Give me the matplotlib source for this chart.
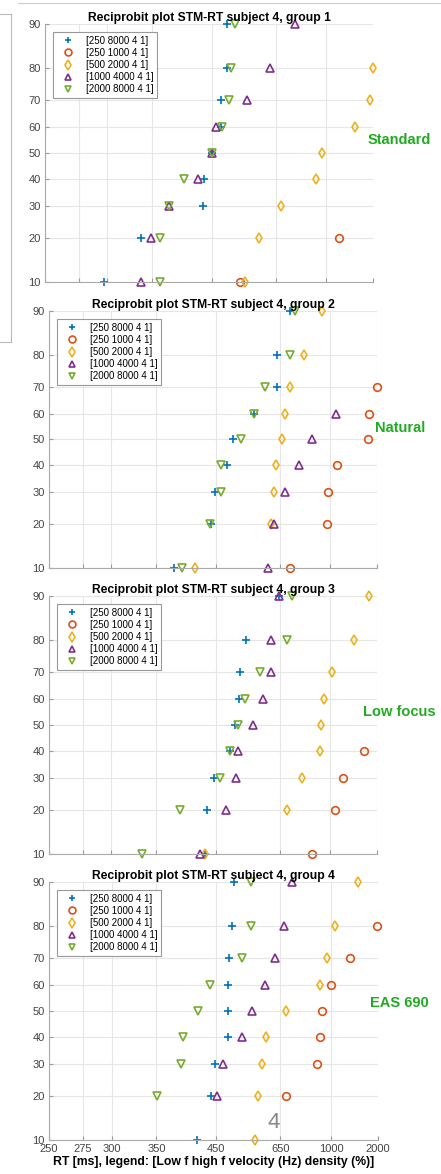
import numpy as np
import matplotlib.pyplot as plt
from statistics import NormalDist

plt.rcParams['font.family'] = ['Liberation Sans', 'DejaVu Sans']

# percentiles on the probit axis
pct = [10, 20, 30, 40, 50, 60, 70, 80, 90]
xticks = [250, 275, 300, 350, 450, 650, 1000, 2000]
yticks = [10, 20, 30, 40, 50, 60, 70, 80, 90]
series_labels = ['[250 8000 4 1]', '[250 1000 4 1]', '[500 2000 4 1]',
                 '[1000 4000 4 1]', '[2000 8000 4 1]']
nan = np.nan

# RT (ms) at each percentile, one list per legend entry
g1 = [
    [297, 336, 432, 435, 451, 472, 472, 485, 487],
    [522, 1155, nan, nan, nan, nan, nan, nan, nan],
    [537, 583, 674, 906, 955, 1453, 1894, 1990, nan],
    [336, 348, 373, 423, 451, 460, 543, 627, 749],
    [361, 361, 373, 398, 451, 474, 490, 497, 507],
]
g2 = [
    [375, 440, 449, 476, 490, 552, 637, 638, 698],
    [701, 963, 974, 1079, 1667, 1709, 1984, nan, nan],
    [409, 613, 625, 633, 660, 676, 698, 784, 922],
    [600, 626, 674, 748, 840, 1066, nan, nan, nan],
    [388, 439, 461, 462, 512, 551, 591, 700, 729],
]
g3 = [
    [428, 433, 447, 483, 497, 508, 509, 528, 647],
    [835, 1058, 1155, 1565, nan, nan, nan, nan, nan],
    [428, 683, 771, 899, 914, 942, 1024, 1342, 1698],
    [419, 473, 498, 505, 549, 584, 612, 612, 647],
    [332, 384, 460, 484, 505, 524, 573, 685, 709],
]
g4 = [
    [413, 439, 448, 477, 477, 477, 480, 488, 491],
    [nan, 677, 870, 894, 917, 995, 1247, 1957, nan],
    [553, 564, 578, 590, 677, 891, 955, 1047, 1409],
    [nan, 451, 465, 514, 543, 586, 627, 667, 706],
    [nan, 351, 386, 389, 415, 437, 515, 540, 541],
]
groups = [g1, g2, g3, g4]
notes = ['Standard', 'Natural', 'Low focus', 'EAS 690']

colors = ['#0072BD', '#D95319', '#EDB120', '#7E2F8E', '#77AC30']
markers = ['+', 'o', 'd', '^', 'v']

_nd = NormalDist()


def probit(p):
    p = np.asarray(p, dtype=float)
    out = np.full(p.shape, np.nan)
    ok = (p > 0) & (p < 100)
    out[ok] = [_nd.inv_cdf(v / 100.0) for v in p[ok]]
    return out


def probit_inv(z):
    z = np.asarray(z, dtype=float)
    return np.array([_nd.cdf(v) * 100.0 for v in z.ravel()]).reshape(z.shape)


def recip(x):
    x = np.asarray(x, dtype=float)
    with np.errstate(divide='ignore'):
        return -1.0 / x


W, H = 441, 1174
fig = plt.figure(figsize=(W / 100, H / 100), dpi=100)

# axes boxes in pixels: left, right, top, bottom
boxes = [(45, 373, 24, 282), (49, 377, 311, 568),
         (49, 377, 596, 854), (49, 378, 882, 1140)]

for i, (grp, box) in enumerate(zip(groups, boxes)):
    l, r, t, b = box
    ax = fig.add_axes([l / W, 1 - b / H, (r - l) / W, (b - t) / H])
    ax.set_xscale('function', functions=(recip, recip))
    ax.set_yscale('function', functions=(probit, probit_inv))
    for vals, lab, c, m in zip(grp, series_labels, colors, markers):
        ax.plot(vals, pct, linestyle='none', marker=m, color=c,
                markerfacecolor='none', markersize=5.5, markeredgewidth=1.2,
                label=lab, clip_on=False)
    ax.set_xlim(250, 2000)
    ax.set_ylim(10, 90)
    ax.set_xticks(xticks)
    ax.set_yticks(yticks)
    ax.set_yticklabels([str(v) for v in yticks])
    ax.minorticks_off()
    if i == 3:
        ax.set_xticklabels([str(v) for v in xticks])
        ax.set_xlabel('RT [ms], legend: [Low f high f velocity (Hz) density (%)]',
                      fontsize=8.8, fontweight='bold', labelpad=1)
    else:
        ax.set_xticklabels([])
    ax.grid(True, color='#e6e6e6', linewidth=0.8)
    ax.set_axisbelow(True)
    ax.tick_params(direction='in', length=3, labelsize=8, colors='#999999',
                   labelcolor='#444444', pad=3)
    for s in ['top', 'right']:
        ax.spines[s].set_visible(False)
    for s in ['left', 'bottom']:
        ax.spines[s].set_color('#aaaaaa')
        ax.spines[s].set_linewidth(0.8)
    ax.set_title('Reciprobit plot STM-RT subject 4, group %d' % (i + 1),
                 fontsize=8.7, fontweight='bold', pad=2)
    leg = ax.legend(loc='upper left', fontsize=7, frameon=True, fancybox=False,
                    edgecolor='#999999', borderaxespad=0.8, handletextpad=0.7,
                    labelspacing=0.22, borderpad=0.4, handlelength=2.3,
                    markerscale=0.9)
    leg.get_frame().set_linewidth(0.8)
    leg.get_frame().set_alpha(1)

# green annotations on the right side
note_pos = [(368, 140), (375, 428), (363, 712), (370, 1003)]
for txt, (x, y) in zip(notes, note_pos):
    fig.text(x / W, 1 - y / H, txt, color='#22aa22', fontsize=10.5,
             fontweight='bold', va='center', ha='left')

fig.text(274 / W, 1 - 1122 / H, '4', color='#888888', fontsize=16,
         ha='center', va='center')

# screenshot frame remnants
fig.add_artist(plt.Line2D([18 / W, 1], [1 - 3 / H, 1 - 3 / H], color='#cccccc', lw=0.8))
fig.add_artist(plt.Line2D([11 / W, 11 / W], [1 - 14 / H, 1 - 342 / H], color='#bbbbbb', lw=0.8))
fig.add_artist(plt.Line2D([0, 11 / W], [1 - 342 / H, 1 - 342 / H], color='#bbbbbb', lw=0.8))
fig.add_artist(plt.Line2D([0, 11 / W], [1 - 14 / H, 1 - 14 / H], color='#bbbbbb', lw=0.8))

fig.savefig('out.png', dpi=100)
